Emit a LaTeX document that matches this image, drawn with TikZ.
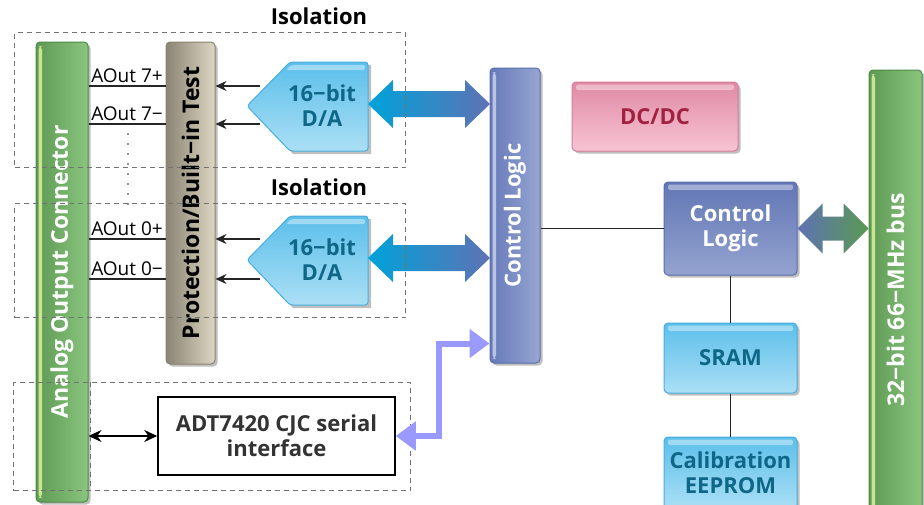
\documentclass[tikz,border=0pt]{standalone}
\usepackage{fontspec}
\setmainfont{Open Sans}
\usetikzlibrary{arrows.meta,positioning,shadows}

\definecolor{grnL}{HTML}{5E9A55}
\definecolor{grnR}{HTML}{89C57D}
\definecolor{grnEdge}{HTML}{4E8A47}
\definecolor{grnStrip}{HTML}{C9E592}
\definecolor{protL}{HTML}{8A8474}
\definecolor{protR}{HTML}{DDD6C2}
\definecolor{protEdge}{HTML}{8C8372}
\definecolor{bluL}{HTML}{6679BA}
\definecolor{bluR}{HTML}{97A6D1}
\definecolor{bluEdge}{HTML}{5A6EAE}
\definecolor{bluTop}{HTML}{6176B5}
\definecolor{bluBot}{HTML}{94A3CF}
\definecolor{skyTop}{HTML}{5CBFEA}
\definecolor{skyBot}{HTML}{ABDFF5}
\definecolor{skyEdge}{HTML}{49AEDF}
\definecolor{skyText}{HTML}{0E6786}
\definecolor{pinkTop}{HTML}{DF8AA4}
\definecolor{pinkBot}{HTML}{F8C4D3}
\definecolor{pinkEdge}{HTML}{D97C99}
\definecolor{pinkText}{HTML}{A1213F}
\definecolor{arrCyan}{HTML}{00A2DA}
\definecolor{arrBlue}{HTML}{5E72B4}
\definecolor{arrGreen}{HTML}{5A9A52}
\definecolor{lav}{HTML}{9999FF}
\definecolor{adtText}{HTML}{333333}

\newcommand{\bigbold}{\bfseries\fontsize{22}{25}\selectfont}
\newcommand{\barbold}{\bfseries\fontsize{23}{25}\selectfont}

\tikzset{
    every node/.style={inner sep=0pt},
    softshadow/.style={drop shadow={shadow xshift=2.5pt,shadow yshift=-2.5pt,fill=black,opacity=0.25}},
    vgloss/.style={path picture={\fill[#1] ([xshift=2.5pt,yshift=-4pt]path picture bounding box.north west)
        rectangle ([xshift=6pt,yshift=4pt]path picture bounding box.south west);}},
    hgloss/.style={path picture={\fill[white,opacity=0.4,rounded corners=2pt]
        ([xshift=4pt,yshift=-2.5pt]path picture bounding box.north west)
        rectangle ([xshift=-4pt,yshift=-8pt]path picture bounding box.north east);}},
    vbar/.style={rectangle,rounded corners=4pt,draw=#1Edge,line width=1pt,
        left color=#1L,right color=#1R,softshadow},
    hbox/.style={rectangle,rounded corners=4pt,draw=#1Edge,line width=1pt,
        top color=#1Top,bottom color=#1Bot,softshadow,hgloss,font=\bigbold,align=center},
    bartxt/.style={rotate=90,font=\barbold,text=white},
    isolbox/.style={draw=black!55,line width=1pt,dash pattern=on 5pt off 4pt},
    lbl/.style={font=\fontsize{19}{21}\selectfont},
    wire/.style={line width=1.2pt,draw=black!85},
    tip/.style={-{Stealth[length=11pt,width=10pt]}},
    lavarrow/.style={draw=lav,line width=6pt,
        {Triangle[length=20pt,width=28pt]}-{Triangle[length=20pt,width=28pt]}},
}

\begin{document}
\begin{tikzpicture}[x=1pt,y=-1pt,>=Stealth]
    \clip (0,0) rectangle (924,504);

    % Barras verticales
    \node[vbar=grn,vgloss=grnStrip,minimum width=52,minimum height=460] (conn) at (62,272) {};
    \node[bartxt] (conntxt) at (conn.center) {Analog Output Connector};
    \node[vbar=prot,minimum width=49,minimum height=322] (prot) at (190.5,203) {};
    \node[bartxt,text=black] (prottxt) at (prot.center) {Protection/Built−in Test};
    \node[vbar=blu,vgloss=white!55!bluL,minimum width=50,minimum height=295] (ctrl) at (515,215.5) {};
    \node[bartxt,font=\bigbold] (ctrltxt) at (ctrl.center) {Control Logic};
    \node[vbar=grn,vgloss=grnStrip,minimum width=53,minimum height=460] (bus) at (895.5,300) {};
    \node[bartxt] (bustxt) at (bus.center) {32−bit 66−MHz bus};

    % Convertidores D/A
    \foreach \i/\yc in {1/106,2/260}{
        \fill[black!25] (250,\yc+3) -- (293,\yc-41) -- (371,\yc-41) -- (371,\yc+48) -- (293,\yc+48) -- cycle;
        \shade[top color=skyTop,bottom color=skyBot,draw=skyEdge,line width=1pt,rounded corners=3pt]
            (247,\yc) -- (290,\yc-44) -- (368,\yc-44) -- (368,\yc+45) -- (290,\yc+45) -- cycle;
        \fill[white,opacity=0.4,rounded corners=2pt]
            (291,\yc-41) -- (365,\yc-41) -- (365,\yc-36) -- (286,\yc-36) -- cycle;
        \node[font=\bigbold,text=skyText,align=center] (da\i) at (322,\yc) {16−bit\\D/A};
        \coordinate (daout\i) at (368,\yc-2);
        \shade[left color=arrCyan,right color=arrBlue]
            (daout\i) -- ++(25,-24) -- ++(0,11) -- ++(72,0) -- ++(0,-11) -- ++(25,24)
            -- ++(-25,24) -- ++(0,-11) -- ++(-72,0) -- ++(0,11) -- cycle;
    }

    % Salidas analógicas
    \coordinate (dain) at (260,0);
    \coordinate (a7p) at (0,86);
    \coordinate (a7m) at (0,124);
    \coordinate (a0p) at (0,239);
    \coordinate (a0m) at (0,279);
    \foreach \r/\t in {a7p/AOut 7+,a7m/AOut 7−,a0p/AOut 0+,a0m/AOut 0−}{
        \draw[wire] (conn.east |- \r) -- node[lbl,above=3pt] {\t} (prot.west |- \r);
        \draw[wire,tip] (dain |- \r) -- (prot.east |- \r);
    }
    \coordinate (dotA) at (128,134);
    \coordinate (dotB) at (128,214);
    \draw[wire,line width=1.6pt,line cap=round,dash pattern=on 0pt off 10pt] (dotA) -- (dotB);

    % Zonas de aislamiento
    \node[isolbox,minimum width=391,minimum height=135,anchor=north west] (iso1) at (14,32) {};
    \node[isolbox,minimum width=391,minimum height=114,anchor=north west] (iso2) at (14,203) {};
    \node[isolbox,minimum width=397,minimum height=108,anchor=north west] (iso3) at (13,382) {};
    \draw[isolbox] ([xshift=2pt]iso3.north -| conn.east) -- ([xshift=2pt]iso3.south -| conn.east);
    \node[font=\bigbold] (isolbl1) at (319,16) {Isolation};
    \node[font=\bigbold] (isolbl2) at (319,187) {Isolation};

    % Bloques de la derecha
    \node[hbox=pink,text=pinkText,minimum width=166,minimum height=69] (dcdc) at (655,116.5) {DC/DC};
    \node[hbox=blu,text=white,minimum width=133,minimum height=93] (clbox) at (730.5,228.5) {Control\\Logic};
    \node[hbox=sky,text=skyText,minimum width=133,minimum height=70] (sram) at (730.5,358) {SRAM};
    \node[hbox=sky,text=skyText,minimum width=133,minimum height=72] (eeprom) at (730.5,473) {Calibration\\EEPROM};
    \draw[wire] (ctrl.east |- clbox) -- (clbox.west);
    \draw[wire] (clbox.south) -- (sram.north);
    \draw[wire] (sram.south) -- (eeprom.north);
    \shade[left color=arrBlue,right color=arrGreen]
        (clbox.east) -- ++(25,-25) -- ++(0,13) -- ++(21,0) -- ++(0,-13) -- ++(25,25)
        -- ++(-25,25) -- ++(0,-13) -- ++(-21,0) -- ++(0,13) -- cycle;

    % Sensor CJC
    \node[draw,line width=1.5pt,fill=white,font=\bigbold,text=adtText,align=center,
        minimum width=237,minimum height=78] (adt) at (276.5,436) {ADT7420 CJC serial\\interface};
    \draw[line width=1.5pt,{Stealth[length=13pt,width=12pt]}-{Stealth[length=13pt,width=12pt]}]
        (conn.east |- adt) -- (adt.west);
    \draw[lavarrow] (adt.east) -- ++(43,0) |- ([yshift=20pt]ctrl.south west);
\end{tikzpicture}
\end{document}
